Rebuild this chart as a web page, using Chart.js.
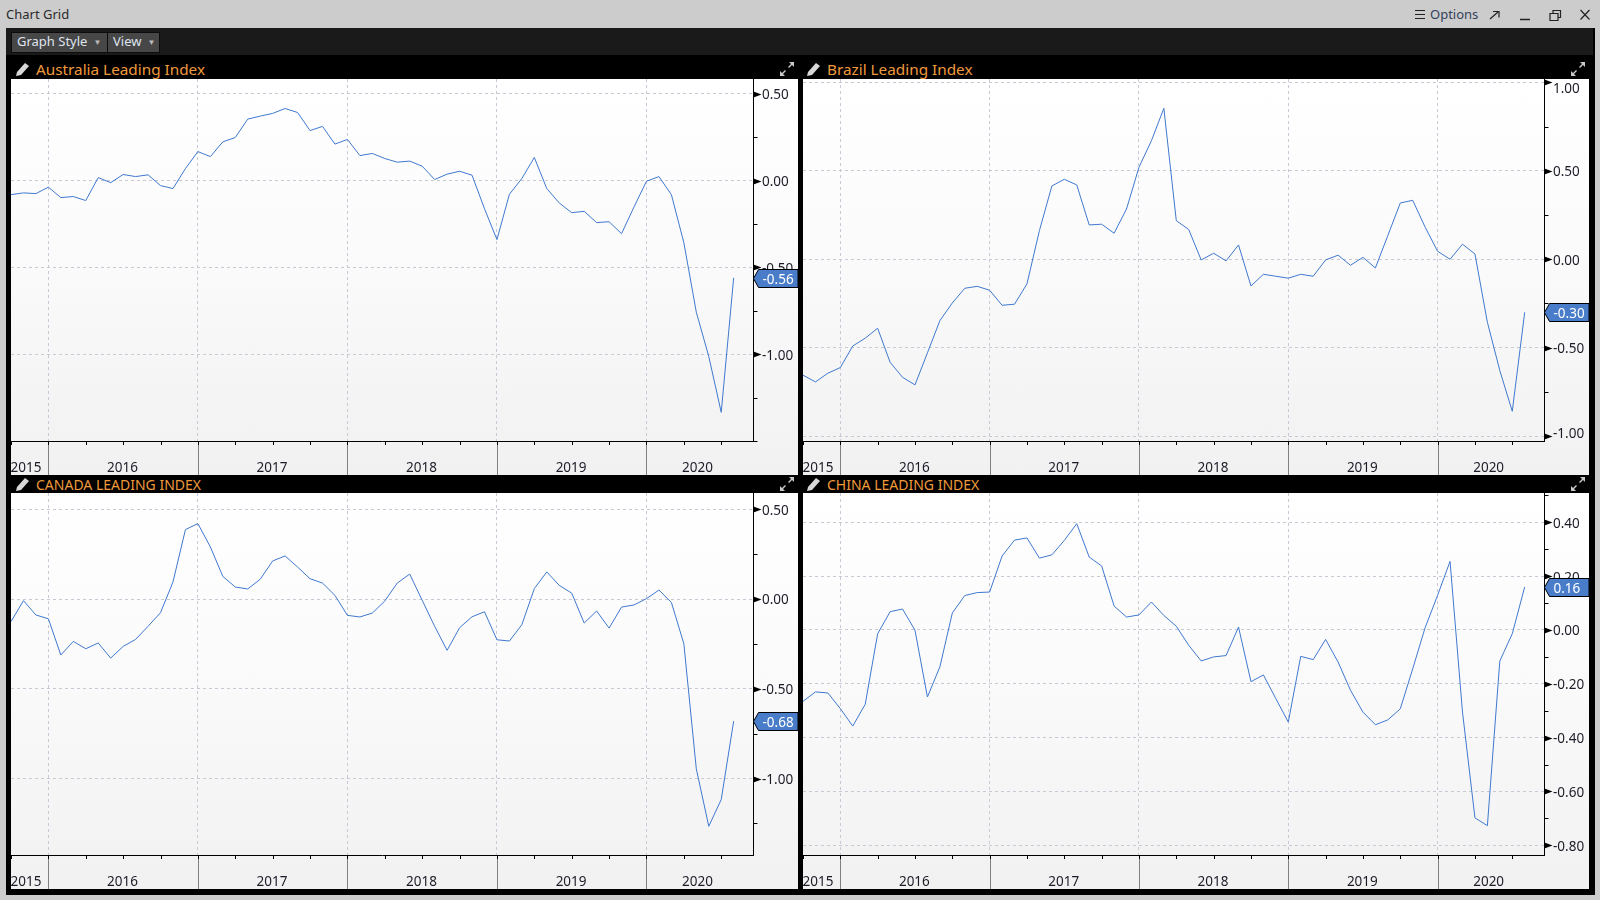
<!DOCTYPE html>
<html>
<head>
<meta charset="utf-8">
<title>Chart Grid</title>
<script src="https://cdn.jsdelivr.net/npm/chart.js@4/dist/chart.umd.min.js"></script>
<style>
    html, body { margin: 0; padding: 0; width: 1600px; height: 900px; overflow: hidden; background: #cccccc; }
    body { font-family: "Noto Sans", sans-serif; font-size: 13px; }
    .abs { position: absolute; white-space: nowrap; }
    #frame { left: 6px; top: 28px; width: 1589px; height: 867px; background: #000; }
    #toolbar { left: 6px; top: 28px; width: 1587px; height: 27px; background: #1a1a1a; }
    .btn { top: 32px; height: 19px; line-height: 16px; background: #474747; color: #dfe4ee; border: 1px solid #0c0c0c; font-size: 13px; }
    .btn i { font-style: normal; font-size: 8px; color: #bbb; position: relative; top: -1px; margin-left: 6px; }
    .head { color: #f09a3c; font-size: 15.3px; line-height: 18px; }
    .caps { font-size: 14px; margin-top: 1px; }
    .panel { background: linear-gradient(#ffffff, #fbfbfb 40%, #f8f8f8 60%, #f1f1f1); }
    canvas { display: block; }
</style>
</head>
<body>
<div class="abs" style="left:6px;top:4px;color:#2a2a2a;line-height:20px">Chart Grid</div>

<svg class="abs" style="left:1412px;top:6px" width="184" height="22" fill="none" stroke="#222" stroke-width="1.2">
    <path d="M3 4.5h10M3 8.5h10M3 12.5h10"/>
    <path d="M78 13l8-7M81 5.5h6v6" />
    <path d="M108 13.5h10" stroke-width="1.5"/>
    <path d="M138 7.5h8v7h-8zM141 7.5v-3h7.5v7h-2.5"/>
    <path d="M168.500 4l9 9.500M177.500 4l-9 9.500"/>
</svg>
<div class="abs" style="left:1430px;top:4px;color:#33415c;line-height:20px">Options</div>

<div class="abs" id="frame"></div>
<div class="abs" id="toolbar"></div>
<div class="abs btn" style="left:11px;width:95px;padding-left:5px">Graph Style<i>▼</i></div>
<div class="abs btn" style="left:107px;width:46px;padding-left:5px">View<i>▼</i></div>

<svg width="0" height="0" style="position:absolute">
    <symbol id="pencil" viewBox="0 0 14 14"><path d="M0 14l1-4 8-9 4 3-8 9z" fill="#d8d8d8"/></symbol>
    <symbol id="expand" viewBox="0 0 16 16"><path d="M10 1h5v5l-2-2-3 3-1-1 3-3zM6 15H1v-5l2 2 3-3 1 1-3 3z" fill="#c8c8c8"/></symbol>
</svg>

<svg class="abs" style="left:16px;top:62px" width="14" height="14"><use href="#pencil"/></svg>
<svg class="abs" style="left:779px;top:61px" width="16" height="16"><use href="#expand"/></svg>
<div class="abs head" style="left:36px;top:60px">Australia Leading Index</div>
<svg class="abs" style="left:807px;top:62px" width="14" height="14"><use href="#pencil"/></svg>
<svg class="abs" style="left:1570px;top:61px" width="16" height="16"><use href="#expand"/></svg>
<div class="abs head" style="left:827px;top:60px">Brazil Leading Index</div>
<svg class="abs" style="left:16px;top:477px" width="14" height="14"><use href="#pencil"/></svg>
<svg class="abs" style="left:779px;top:476px" width="16" height="16"><use href="#expand"/></svg>
<div class="abs head caps" style="left:36px;top:475px">CANADA LEADING INDEX</div>
<svg class="abs" style="left:807px;top:477px" width="14" height="14"><use href="#pencil"/></svg>
<svg class="abs" style="left:1570px;top:476px" width="16" height="16"><use href="#expand"/></svg>
<div class="abs head caps" style="left:827px;top:475px">CHINA LEADING INDEX</div>

<div class="abs panel" style="left:11px;top:79px"><canvas id="australia" width="787" height="396"></canvas></div>
<div class="abs panel" style="left:803px;top:79px"><canvas id="brazil" width="786" height="396"></canvas></div>
<div class="abs panel" style="left:11px;top:493px"><canvas id="canada" width="787" height="396"></canvas></div>
<div class="abs panel" style="left:803px;top:493px"><canvas id="china" width="786" height="396"></canvas></div>

<script>
// months counted from Jan 2016, so Oct 2015 = -3 and Aug 2020 = 55
const months = [-3,-2,-1,0,1,2,3,4,5,6,7,8,9,10,11,12,13,14,15,16,17,18,19,20,21,22,23,24,25,26,27,28,29,
    30,31,32,33,34,35,36,37,38,39,40,41,42,43,44,45,46,47,48,49,50,51,52,53,54,55];
const yearLines = [0, 12, 24, 36, 48];
const quarterTicks = [-3,0,3,6,9,12,15,18,21,24,27,30,33,36,39,42,45,48,51,54];
const yearLabels = ["2015", "2016", "2017", "2018", "2019", "2020"];
const yearCentres = [-1.8, 5.95, 17.95, 29.95, 41.95, 52.1];

const australiaValues = [-.081,-.071,-.075,-.038,-.098,-.092,-.115,.017,-.012,.035,.023,.033,-.029,-.046,.069,.167,.138,.223,.248,.354,.371,.387,.415,.392,.288,.312,.21,.237,.144,.156,.127,.106,
    .112,.083,.006,.037,.054,.031,-.162,-.34,-.079,.012,.133,-.046,-.129,-.185,-.177,-.242,-.237,-.306,-.152,-.004,.023,-.081,-.358,-.758,-1.013,-1.335,-.56];
const brazilValues = [-.655,-.693,-.644,-.612,-.49,-.446,-.39,-.582,-.667,-.71,-.529,-.347,-.247,-.164,-.153,-.175,-.26,-.254,-.139,.162,.414,.452,.42,.194,.198,.147,.284,.52,.67,.853,.218,.168,
    -.004,.034,-.009,.081,-.151,-.085,-.096,-.107,-.085,-.096,-.004,.023,-.034,.011,-.049,.134,.318,.333,.181,.045,0,.085,.03,-.356,-.629,-.859,-.30];
const canadaValues = [-.126,-.009,-.089,-.11,-.312,-.236,-.277,-.245,-.329,-.264,-.225,-.152,-.076,.095,.387,.42,.29,.126,.067,.056,.11,.212,.24,.178,.113,.089,.02,-.091,-.1,-.078,-.011,.089,.139,
    -.007,-.152,-.286,-.16,-.099,-.071,-.227,-.234,-.143,.058,.151,.076,.033,-.134,-.067,-.162,-.045,-.033,.002,.05,-.019,-.249,-.946,-1.266,-1.117,-.68];
const chinaValues = [-.265,-.23,-.234,-.292,-.357,-.276,-.014,.068,.078,-.001,-.249,-.137,.063,.128,.139,.141,.275,.334,.342,.267,.279,.333,.395,.271,.238,.089,.048,.056,.104,.054,.014,-.057,
    -.115,-.1,-.095,.011,-.192,-.167,-.255,-.342,-.098,-.11,-.035,-.119,-.224,-.305,-.352,-.334,-.293,-.144,.009,.129,.255,-.305,-.698,-.727,-.115,-.014,.16];

const australiaTicks = [.5, 0, -.5, -1];
const australiaMinor = [.25, -.25, -.75, -1.25, -1.5];
const brazilTicks = [1, .5, 0, -.5, -1];
const brazilMinor = [.75, .25, -.25, -.75];
const canadaTicks = [.5, 0, -.5, -1];
const canadaMinor = [.25, -.25, -.75, -1.25];
const chinaTicks = [.4, .2, 0, -.2, -.4, -.6, -.8];
const chinaMinor = [.5, .3, .1, -.1, -.3, -.5, -.7];

const FONT = { family: '"Noto Sans", sans-serif', size: 13.5 };
const BADGE = "#4a7dc9";

// stops the edge labels from pushing the plot area in
function noPadding(s) {
    s.paddingLeft = s.paddingRight = s.paddingTop = s.paddingBottom = 0;
}

// year separators, quarter ticks, y markers and the last value flag
const decor = {
    id: "decor",
    beforeDraw(chart) {
        // keep labels at the edges inside the plot height, like the terminal does
        const y = chart.scales.y, area = chart.chartArea;
        y.getLabelItems().forEach(function (item) {
            const t = item.options.translation;
            t[1] = Math.min(Math.max(t[1] + 1.5, area.top + 10), area.bottom - 7);
        });
    },
    afterDraw(chart, args, opts) {
        const ctx = chart.ctx, x = chart.scales.x, y = chart.scales.y, area = chart.chartArea;
        const ax = Math.round(area.right) + 0.5;
        ctx.save();
        ctx.lineWidth = 1;
        ctx.strokeStyle = "#808080";
        yearLines.forEach(function (m) {
            const px = Math.round(x.getPixelForValue(m)) + 0.5;
            ctx.beginPath(); ctx.moveTo(px, area.bottom); ctx.lineTo(px, chart.height); ctx.stroke();
        });
        ctx.strokeStyle = "#000";
        quarterTicks.forEach(function (m) {
            const px = Math.round(x.getPixelForValue(m)) + 0.5;
            ctx.beginPath(); ctx.moveTo(px, area.bottom); ctx.lineTo(px, area.bottom + 4); ctx.stroke();
        });
        opts.minor.forEach(function (v) {
            const py = Math.round(y.getPixelForValue(v)) + 0.5;
            ctx.beginPath(); ctx.moveTo(ax, py); ctx.lineTo(ax + 4, py); ctx.stroke();
        });
        ctx.fillStyle = "#000";
        y.ticks.forEach(function (t) {
            const py = Math.round(y.getPixelForValue(t.value)) + 0.5;
            ctx.beginPath(); ctx.moveTo(ax, py - 3); ctx.lineTo(ax + 8, py); ctx.lineTo(ax, py + 3); ctx.fill();
        });
        // flag with the latest reading
        const last = opts.values[opts.values.length - 1];
        const ly = Math.round(y.getPixelForValue(last)) + 0.5;
        ctx.beginPath();
        ctx.moveTo(ax, ly);
        ctx.lineTo(ax + 5, ly - 9);
        ctx.lineTo(chart.width, ly - 9);
        ctx.lineTo(chart.width, ly + 9);
        ctx.lineTo(ax + 5, ly + 9);
        ctx.closePath();
        ctx.fillStyle = BADGE;
        ctx.fill();
        ctx.stroke();
        ctx.fillStyle = "#fff";
        ctx.font = FONT.size + "px " + FONT.family;
        ctx.textAlign = "left";
        ctx.textBaseline = "middle";
        ctx.fillText(last.toFixed(2), ax + 9, ly + 2);
        ctx.restore();
    }
};

function makeChart(id, values, yMin, yMax, yTicks, yMinor) {
    return new Chart(id, {
        type: "line",
        data: {
            datasets: [{
                data: months.map(function (m, i) { return { x: m, y: values[i] }; }),
                borderColor: "#3f78cf",
                borderWidth: 1,
                pointRadius: 0,
                tension: 0,
                clip: false
            }]
        },
        options: {
            responsive: false,
            animation: false,
            devicePixelRatio: 1,
            layout: { autoPadding: false, padding: 0 },
            events: [],
            plugins: {
                legend: { display: false },
                tooltip: { enabled: false },
                decor: { minor: yMinor, values: values }
            },
            scales: {
                x: {
                    type: "linear",
                    position: "bottom",
                    min: -3,
                    max: 56.55,
                    afterBuildTicks: function (s) { s.ticks = yearLines.map(function (v) { return { value: v }; }); },
                    afterFit: function (s) { s.height = 0; noPadding(s); },
                    ticks: { display: false },
                    grid: { color: "#c9c9d6", lineWidth: 1, drawTicks: false },
                    border: { display: true, color: "#000", dash: [3, 3] }
                },
                years: {
                    type: "linear",
                    position: "bottom",
                    min: -3,
                    max: 56.55,
                    afterBuildTicks: function (s) { s.ticks = yearCentres.map(function (v) { return { value: v }; }); },
                    afterFit: function (s) { s.height = 34; noPadding(s); },
                    ticks: {
                        autoSkip: false,
                        maxRotation: 0,
                        padding: 19,
                        color: "#1c1c28",
                        font: FONT,
                        callback: function (v) { return yearLabels[yearCentres.indexOf(v)]; }
                    },
                    grid: { display: false, drawTicks: false },
                    border: { display: false }
                },
                y: {
                    type: "linear",
                    position: "right",
                    min: yMin,
                    max: yMax,
                    afterBuildTicks: function (s) { s.ticks = yTicks.map(function (v) { return { value: v }; }); },
                    afterFit: function (s) { s.width = 45; noPadding(s); },
                    ticks: {
                        autoSkip: false,
                        padding: 9,
                        crossAlign: "near",
                        color: "#1c1c28",
                        font: FONT,
                        callback: function (v) { return v.toFixed(2); }
                    },
                    grid: { color: "#c9c9d6", lineWidth: 1, drawTicks: false },
                    border: { display: true, color: "#000", dash: [3, 3] }
                }
            }
        },
        plugins: [decor]
    });
}

const c1 = makeChart("australia", australiaValues, -1.5, .585, australiaTicks, australiaMinor);
const c2 = makeChart("brazil", brazilValues, -1.027, 1.0186, brazilTicks, brazilMinor);
const c3 = makeChart("canada", canadaValues, -1.426, .5906, canadaTicks, canadaMinor);
const c4 = makeChart("china", chinaValues, -.836, .509, chinaTicks, chinaMinor);
</script>
</body>
</html>
